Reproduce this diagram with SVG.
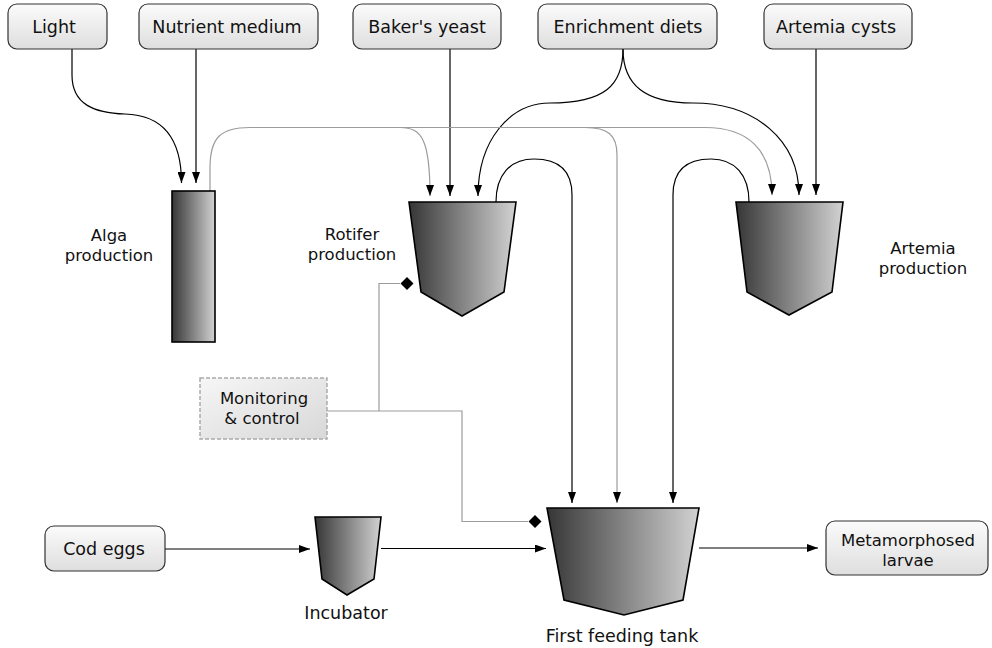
<svg xmlns="http://www.w3.org/2000/svg" width="992" height="648" viewBox="0 0 992 648">
<defs>
<linearGradient id="boxg" x1="0" y1="0" x2="0" y2="1"><stop offset="0" stop-color="#fbfbfb"/><stop offset="1" stop-color="#dedede"/></linearGradient>
<linearGradient id="tankg" x1="0" y1="0" x2="1" y2="0"><stop offset="0" stop-color="#363636"/><stop offset="1" stop-color="#d2d2d2"/></linearGradient>
<linearGradient id="mong" x1="0" y1="0" x2="1" y2="1"><stop offset="0" stop-color="#f6f6f6"/><stop offset="1" stop-color="#d8d8d8"/></linearGradient>
<marker id="arr" viewBox="0 0 11 8" refX="11" refY="4" markerWidth="11" markerHeight="8" markerUnits="userSpaceOnUse" orient="auto"><path d="M0,0 L11,4 L0,8 z" fill="#000"/></marker>
<marker id="dia" viewBox="0 0 13 13" refX="0" refY="6.5" markerWidth="13" markerHeight="13" markerUnits="userSpaceOnUse" orient="auto"><path d="M0,6.5 L6.5,0 L13,6.5 L6.5,13 z" fill="#000"/></marker>
</defs>
<style>
.box{fill:url(#boxg);stroke:#333;stroke-width:1.2}
.tank{fill:url(#tankg);stroke:#000;stroke-width:1.6;stroke-linejoin:miter}
.mon{fill:url(#mong);stroke:#aaa;stroke-width:1.5;stroke-dasharray:4 2}
text{font-family:"DejaVu Sans","Liberation Sans",sans-serif;font-size:17.5px;fill:#111;text-anchor:middle}
.two{font-size:16.5px}
.c{fill:none;stroke:#000;stroke-width:1.2}
.cg{fill:none;stroke:#9c9c9c;stroke-width:1.2}
.a{marker-end:url(#arr)}
.d{marker-end:url(#dia)}
</style>
<rect width="992" height="648" fill="#fff"/>
<g id="connectors">
<path class="c a" d="M72,49 V75 C72,105 95,113 125,114 C160,115 181.5,135 181.5,183"/>
<path class="c a" d="M196,49 V183"/>
<path class="c a" d="M450,49 V196"/>
<path class="c a" d="M623,49 C623,85 605,103 550,103 C510,103 478,140 478,196"/>
<path class="c a" d="M623,49 C623,85 645,103 693,103 C755,103 799,140 799,195"/>
<path class="c a" d="M816,49 V195"/>
<path class="cg a" d="M210,191 V168 C210,138 220,127.5 250,127.5 H400 C422,127.5 430,140 430,196"/>
<path class="cg a" d="M400,127.5 H585 C608,127.5 617,135 617,155 V503"/>
<path class="cg a" d="M585,127.5 H705 C748,127.5 772,150 772,195"/>
<path class="c a" d="M496,202 C496,175 510,159 534,159 C560,159 572,172 572,195 V503"/>
<path class="c a" d="M749,202 C749,175 735,159 711,159 C685,159 673,172 673,195 V503"/>
<path class="cg d" d="M327,411 H462 V521.5 H528.5"/>
<path class="cg d" d="M379,411 V283.5 H400.5"/>
<path class="c a" d="M165,549 H310"/>
<path class="c a" d="M381,548.5 H546"/>
<path class="c a" d="M699,548 H818"/>
</g>
<g id="light"><rect class="box" x="8" y="4" width="99" height="45" rx="9"/><text x="54" y="33">Light</text></g>
<g id="nutrient"><rect class="box" x="139" y="4" width="179" height="45" rx="9"/><text x="227" y="33">Nutrient medium</text></g>
<g id="yeast"><rect class="box" x="353" y="4" width="148" height="45" rx="9"/><text x="427" y="33">Baker's yeast</text></g>
<g id="enrich"><rect class="box" x="538" y="4" width="179" height="45" rx="9"/><text x="628" y="33">Enrichment diets</text></g>
<g id="cysts"><rect class="box" x="764" y="4" width="148" height="45" rx="9"/><text x="836" y="33">Artemia cysts</text></g>
<g id="alga"><rect class="tank" x="172" y="191" width="43" height="151" stroke-width="1.2"/><text class="two" x="109" y="241.25">Alga</text><text class="two" x="109" y="260.75">production</text></g>
<g id="rotifer"><polygon class="tank" points="409,202 516,202 504,292 462,316 421,292"/><text class="two" x="352" y="240.25">Rotifer</text><text class="two" x="352" y="259.75">production</text></g>
<g id="artemia"><polygon class="tank" points="736,202 843,202 832,292 789,315 747,292"/><text class="two" x="923" y="254.25">Artemia</text><text class="two" x="923" y="273.75">production</text></g>
<g id="monitor"><rect class="mon" x="200" y="378" width="127" height="61"/><text class="two" x="264" y="404.25">Monitoring</text><text class="two" x="262" y="423.75">&amp; control</text></g>
<g id="codeggs"><rect class="box" x="45" y="526" width="120" height="45" rx="9"/><text x="104" y="555">Cod eggs</text></g>
<g id="incubator"><polygon class="tank" points="315,517 381,517 374,579 347,595 322,579" stroke-width="1.2"/><text x="346" y="619">Incubator</text></g>
<g id="tank"><polygon class="tank" points="547,508 699,508 683,600 624,615 564,600"/><text x="622" y="642">First feeding tank</text></g>
<g id="larvae"><rect class="box" x="826" y="521" width="162" height="54" rx="9"/><text class="two" x="908" y="546.25">Metamorphosed</text><text class="two" x="908" y="565.75">larvae</text></g>
</svg>
